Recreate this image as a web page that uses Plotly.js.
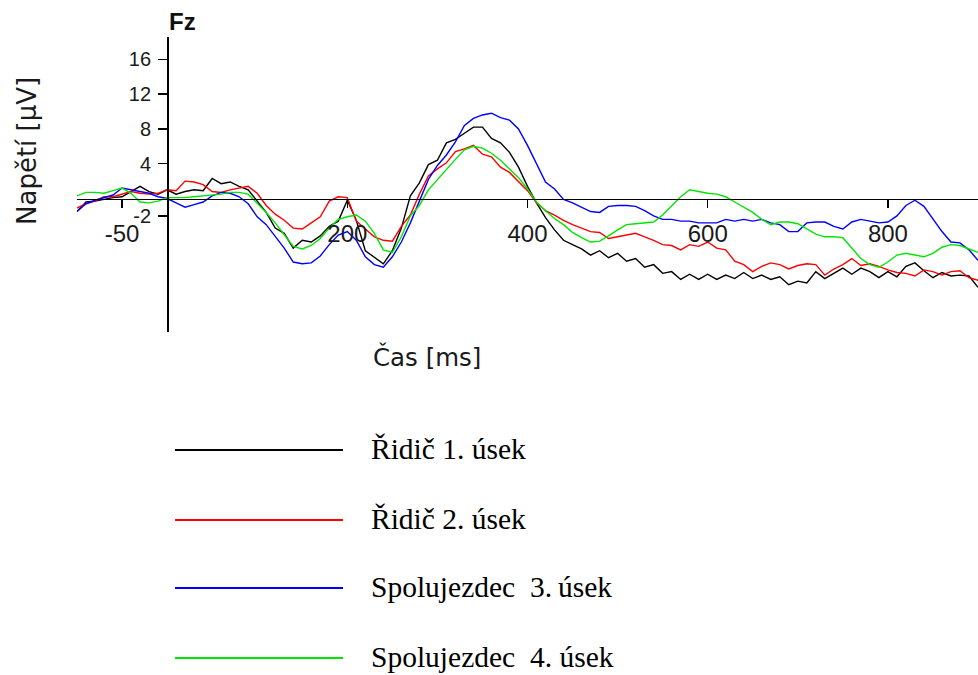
<!DOCTYPE html>
<html>
<head>
<meta charset="utf-8">
<script src="https://cdn.plot.ly/plotly-3.0.1.min.js"></script>
<style>html,body{margin:0;padding:0;background:#fff;}#chart{width:978px;height:675px;}</style>
</head>
<body>
<div id="chart"></div>
<script>
// ---- data (time in ms, voltage in µV) ----
const timeMs = [-100,-90,-80,-70,-60,-50,-40,-30,-20,-10,
  0,10,20,30,40,50,60,70,80,90,
  100,110,120,130,140,150,160,170,180,190,
  200,210,220,230,240,250,260,270,280,290,
  300,310,320,330,340,350,360,370,380,390,
  400,410,420,430,440,450,460,470,480,490,
  500,510,520,530,540,550,560,570,580,590,
  600,610,620,630,640,650,660,670,680,690,
  700,710,720,730,740,750,760,770,780,790,
  800,810,820,830,840,850,860,870,880,890,
  900];

const ridic1 = [-1.5,-0.4,-0.3,-0.1,0.1,0.2,0.8,1.4,0.8,0.5,
  1.0,0.5,0.8,1.0,0.9,2.3,1.7,1.9,1.4,1.0,
  -0.3,-1.6,-3.4,-4.0,-5.7,-4.8,-5.0,-4.3,-3.2,-2.6,
  -0.2,-2.5,-6.0,-6.8,-7.5,-6.0,-3.4,0.3,1.8,3.9,
  4.4,6.4,6.8,7.5,8.2,8.2,6.9,6.4,5.3,3.6,
  1.4,-0.5,-2.2,-3.6,-4.8,-5.3,-5.8,-6.5,-6.0,-6.8,
  -6.3,-7.2,-6.9,-7.9,-7.6,-8.6,-8.4,-9.3,-8.7,-9.3,
  -8.7,-9.3,-8.8,-9.2,-8.5,-9.2,-8.8,-9.3,-9.0,-9.9,
  -9.5,-9.7,-8.4,-9.2,-8.6,-8.0,-8.7,-8.0,-8.4,-9.1,
  -8.4,-9.0,-7.8,-7.4,-8.3,-9.1,-8.5,-8.9,-8.8,-8.9,
  -10.2];

const ridic2 = [-1.1,-0.6,-0.3,0.2,0.2,0.5,0.8,0.6,0.5,0.6,
  1.0,0.9,2.0,1.9,1.6,0.8,0.7,1.0,1.2,1.4,
  0.6,-0.8,-1.8,-2.5,-3.4,-3.5,-2.8,-2.1,-0.3,0.2,
  0.1,-2.6,-3.5,-4.4,-4.8,-4.9,-3.2,-1.9,0.5,2.6,
  3.4,4.1,5.4,5.7,6.1,5.1,4.8,3.6,3.0,2.0,
  0.9,-0.5,-1.4,-1.9,-2.5,-3.0,-3.4,-3.8,-3.9,-4.6,
  -4.4,-4.2,-4.0,-4.4,-4.8,-5.3,-5.4,-5.9,-5.3,-5.5,
  -5.0,-5.7,-5.9,-7.2,-7.6,-8.4,-7.8,-7.4,-7.6,-8.1,
  -7.7,-7.5,-7.6,-8.8,-8.1,-7.6,-6.9,-7.7,-7.5,-7.8,
  -8.2,-8.5,-8.6,-8.9,-8.2,-8.4,-8.8,-8.4,-8.3,-9.1,
  -9.4];

const spolu3 = [-1.5,-0.6,-0.2,0.1,0.4,1.2,1.0,0.8,0.6,0.2,
  0.0,-0.5,-1.0,-0.7,-0.4,0.3,0.7,0.6,0.2,-0.6,
  -2.1,-3.0,-4.3,-5.7,-7.3,-7.5,-7.4,-6.6,-5.3,-4.2,
  -3.8,-4.8,-6.7,-7.6,-7.9,-6.7,-5.0,-2.8,-0.3,2.2,
  3.8,5.0,6.5,8.4,9.2,9.6,9.8,9.3,9.0,8.0,
  6.1,4.0,1.9,1.1,-0.1,-0.5,-1.0,-1.5,-1.6,-0.9,
  -0.8,-0.8,-0.9,-1.4,-2.0,-2.4,-2.4,-2.6,-2.6,-2.8,
  -2.8,-2.8,-2.4,-2.6,-2.4,-2.6,-2.4,-2.8,-3.0,-3.8,
  -3.8,-2.8,-2.7,-2.7,-3.2,-3.5,-2.7,-2.4,-2.6,-2.8,
  -2.7,-2.0,-0.8,-0.2,-0.9,-2.4,-3.8,-5.0,-5.1,-5.9,
  -7.1];

const spolu4 = [0.3,0.7,0.7,0.6,0.9,1.2,0.6,-0.4,-0.5,-0.3,
  0.1,0.1,0.1,0.2,0.3,0.4,0.5,0.7,0.7,0.5,
  -0.5,-1.6,-2.8,-4.2,-5.5,-5.8,-5.4,-4.6,-3.4,-2.4,
  -2.1,-1.9,-2.6,-4.0,-5.9,-6.2,-4.4,-2.0,-0.8,1.0,
  2.2,3.4,4.5,5.6,6.0,5.8,5.2,4.4,3.4,2.4,
  1.1,-0.4,-1.4,-2.3,-3.0,-3.9,-4.5,-5.0,-4.9,-4.3,
  -3.6,-3.0,-2.9,-2.8,-2.7,-1.9,-0.8,0.2,1.0,0.8,
  0.6,0.5,0.2,-0.4,-1.0,-1.6,-2.4,-3.0,-2.7,-2.7,
  -2.9,-3.5,-4.1,-4.4,-4.4,-4.5,-5.7,-6.9,-7.6,-7.9,
  -7.3,-6.5,-6.3,-6.5,-6.7,-6.3,-5.6,-5.3,-5.4,-5.8,
  -6.2];

const seriesNames = ['Řidič 1. úsek', 'Řidič 2. úsek', 'Spolujezdec\u00a0 3.\u2009úsek', 'Spolujezdec\u00a0 4. úsek'];
const seriesValues = [ridic1, ridic2, spolu3, spolu4];
const seriesColors = ['#000000', '#ff0000', '#0000ff', '#00e600'];

const xTickVals = [-50, 200, 400, 600, 800];
const xTickText = ['-50', '200', '400', '600', '800'];
const yTickVals = [-2, 4, 8, 12, 16];
const yTickText = ['-2', '4', '8', '12', '16'];

const channelLabel = 'Fz';
const xTitle = 'Čas [ms]';
const yTitle = 'Napětí [µV]';

// ---- layout geometry ----
const W = 978, H = 675;
const M = {l: 77, r: 0, t: 37, b: 343};
const xRange = [-100, 900];
const yRange = [-15.34, 18.56];
const plotW = W - M.l - M.r, plotH = H - M.t - M.b;
const px = x => (x - M.l) / plotW;
const py = y => (H - M.b - y) / plotH;

const traces = seriesValues.map((vals, i) => ({
  x: timeMs, y: vals, type: 'scatter', mode: 'lines', name: seriesNames[i],
  line: {color: seriesColors[i], width: 1.4}, hoverinfo: 'skip'
}));

const axisFont = {family: '"Liberation Sans", Arial, sans-serif', color: '#1a1a1a'};

const shapes = [];
const annotations = [];
const legendY = [450, 520, 588, 658];
seriesNames.forEach((nm, i) => {
  shapes.push({type: 'line', xref: 'paper', yref: 'paper',
    x0: px(175), x1: px(343), y0: py(legendY[i]), y1: py(legendY[i]),
    line: {color: seriesColors[i], width: 2}});
  annotations.push({xref: 'paper', yref: 'paper', x: px(369), y: py(legendY[i] - 1),
    xanchor: 'left', yanchor: 'middle', showarrow: false, text: nm,
    font: {family: '"Liberation Serif", "Times New Roman", serif', size: 29.5, color: '#000'}});
});
annotations.push({xref: 'paper', yref: 'paper', x: px(167), y: py(22), xanchor: 'left', yanchor: 'middle',
  showarrow: false, text: '<b>' + channelLabel + '</b>',
  font: {family: '"Liberation Sans", Arial, sans-serif', size: 24, color: '#111'}});
annotations.push({xref: 'paper', yref: 'paper', x: px(427), y: py(357), xanchor: 'center', yanchor: 'middle',
  showarrow: false, text: xTitle,
  font: {family: '"DejaVu Sans", sans-serif', size: 24.5, color: '#1a1a1a'}});
annotations.push({xref: 'paper', yref: 'paper', x: px(27), y: py(151), xanchor: 'center', yanchor: 'middle',
  showarrow: false, text: yTitle, textangle: -90,
  font: {family: '"DejaVu Sans", sans-serif', size: 26, color: '#1a1a1a'}});

const layout = {
  width: W, height: H, margin: {l: M.l, r: M.r, t: M.t, b: M.b, pad: 0},
  paper_bgcolor: '#fff', plot_bgcolor: '#fff', showlegend: false,
  xaxis: {range: xRange, anchor: 'free', position: (0 - yRange[0]) / (yRange[1] - yRange[0]),
    showgrid: false, zeroline: false, showline: true, linecolor: '#000', linewidth: 1.5,
    ticks: 'outside', ticklen: 8, tickwidth: 1.5, tickcolor: '#000',
    tickvals: xTickVals, ticktext: xTickText, ticklabelstandoff: 5,
    tickfont: Object.assign({size: 24}, axisFont)},
  yaxis: {range: yRange, anchor: 'free', position: (0 - xRange[0]) / (xRange[1] - xRange[0]),
    showgrid: false, zeroline: false, showline: true, linecolor: '#000', linewidth: 1.5,
    ticks: 'outside', ticklen: 9, tickwidth: 1.5, tickcolor: '#000',
    tickvals: yTickVals, ticktext: yTickText, ticklabelstandoff: 3,
    tickfont: Object.assign({size: 20}, axisFont)},
  shapes: shapes, annotations: annotations
};

Plotly.newPlot('chart', traces, layout, {displayModeBar: false, staticPlot: true});
</script>
</body>
</html>
